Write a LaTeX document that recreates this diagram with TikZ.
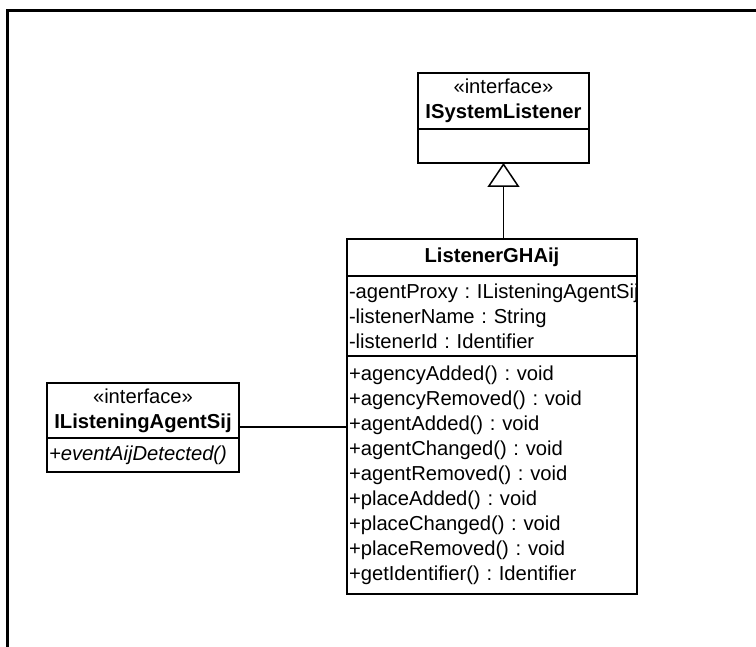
\documentclass[tikz,border=0pt]{standalone}
\usepackage{fontspec}
\setmainfont{Liberation Sans}
\usetikzlibrary{arrows.meta,positioning,calc}
\newcommand{\umlfont}{\fontsize{10.1pt}{12.5pt}\selectfont\frenchspacing\hyphenpenalty=10000\exhyphenpenalty=10000}
\tikzset{
  uml/head/.style={draw, line width=0.75pt, outer sep=0pt, inner sep=1pt, align=center, minimum height=28pt, font=\umlfont},
  uml/title/.style={draw, line width=0.75pt, outer sep=0pt, inner sep=1pt, align=center, minimum height=18.5pt, font=\umlfont\bfseries},
  uml/compart/.style={draw, line width=0.75pt, outer sep=0pt, inner xsep=1pt, inner ysep=1pt, align=left, font=\umlfont},
  uml/line/.style={line width=0.75pt},
  uml/inherit/.style={uml/line, -{Triangle[open, length=12pt, width=16pt]}},
  frame/.style={line width=1.5pt}
}

\begin{document}
\begin{tikzpicture}[x=0.5pt, y=-0.5pt]
  \useasboundingbox (0,0) rectangle (756,647);
  \draw[frame] (7,647) -- (7,11) -- (756,11);

  % interface ISystemListener
  \node[uml/head, minimum width=85.5pt] (sysHead) at (503.5,101) {«interface»\\\textbf{ISystemListener}};
  \node[uml/compart, minimum width=85.5pt, minimum height=17pt, below=0pt of sysHead] (sysBody) {};

  % class ListenerGHAij
  \node[uml/title, minimum width=145pt] (ghTitle) at (492,257.5) {ListenerGHAij};
  \node[uml/compart, text width=143pt, minimum height=40pt, below=0pt of ghTitle] (ghAttrs)
    {\mbox{-agentProxy : IListeningAgentSij}\\-listenerName : String\\-listenerId : Identifier};
  \node[uml/compart, text width=143pt, minimum height=119pt, below=0pt of ghAttrs] (ghOps)
    {+agencyAdded() : void\\+agencyRemoved() : void\\+agentAdded() : void\\+agentChanged() : void\\
     +agentRemoved() : void\\+placeAdded() : void\\+placeChanged() : void\\+placeRemoved() : void\\
     +getIdentifier() : Identifier};

  % interface IListeningAgentSij
  \node[uml/head, minimum width=96pt, minimum height=27.5pt] (agentHead) at (143,410.5) {«interface»\\\textbf{IListeningAgentSij}};
  \node[uml/compart, text width=94pt, minimum height=17pt, below=0pt of agentHead] (agentBody) {\itshape +eventAijDetected()};

  \draw[uml/inherit] (ghTitle.north -| sysBody.south) -- (sysBody.south);
  \coordinate (link) at ($(agentHead.south east)!0.2!(agentHead.north east)$);
  \draw[uml/line] (link) -- (link -| ghOps.west);
\end{tikzpicture}
\end{document}
